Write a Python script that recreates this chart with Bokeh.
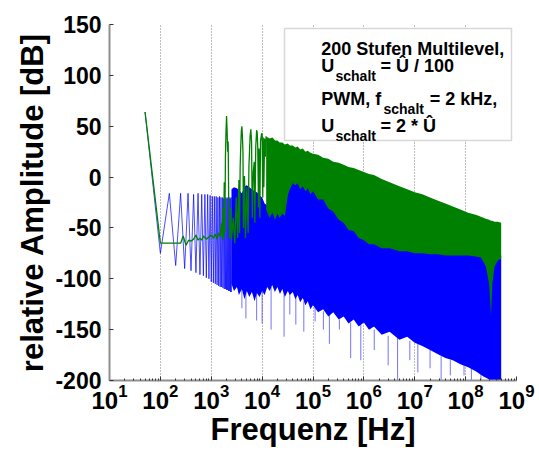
from bokeh.plotting import figure
from bokeh.models import Range1d, Label, BoxAnnotation, FixedTicker
from bokeh.embed import file_html
from bokeh.resources import INLINE

# ---------------- data ----------------
# 200-level multilevel spectrum, low-frequency harmonic lines [Hz], [dB]
blue_line_freq = [50, 100, 150, 200, 250, 300, 350, 400, 450, 500, 550, 600, 650, 700,
                  750, 800, 850, 900, 950, 1000, 1050, 1100, 1150, 1200, 1250, 1300,
                  1350, 1400, 1450, 1500, 1550, 1600, 1650, 1700, 1750, 1800, 1850,
                  1900, 1950, 2000, 2050, 2100, 2150, 2200, 2250, 2300, 2350, 2400,
                  2450, 2500]
blue_line_db = [64, -75, -16, -87, -16, -90, -16, -92, -17, -94, -16, -96, -17, -97,
                -17, -99, -17, -100, -18, -103, -19, -104, -19, -105, -19, -106,
                -20, -107, -19, -108, -20, -108, -20, -109, -21, -110, -20,
                -110, -21, -111, -20, -111, -21, -112, -20, -112, -21, -113,
                -20, -113]

# multilevel spectrum, dense part: upper and lower edge of the filled band
blue_band_freq = [2.5e3, 2.8e3, 3.2e3, 3.5e3, 4.0e3, 4.5e3, 5.0e3, 5.6e3, 6.3e3, 7.1e3,
                  7.9e3, 8.9e3, 1.0e4, 1.12e4, 1.26e4, 1.41e4, 1.58e4, 1.78e4, 2.0e4,
                  2.24e4, 2.5e4, 2.8e4, 3.2e4, 3.5e4, 4.0e4, 4.5e4, 5.0e4, 5.6e4, 6.3e4,
                  7.1e4, 7.9e4, 8.9e4, 1.0e5, 1.26e5, 1.58e5, 2.0e5, 2.5e5, 3.2e5, 4.0e5,
                  5.0e5, 6.3e5, 7.9e5, 1.0e6, 1.26e6, 1.58e6, 2.24e6, 3.2e6, 5.0e6,
                  7.1e6, 1.0e7, 1.41e7, 2.0e7, 2.8e7, 4.0e7, 5.6e7, 7.9e7, 1.12e8,
                  1.58e8, 2.24e8, 3.2e8, 4.0e8, 5.0e8]
blue_band_top = [-12, -10, -11, -13, -16, -9, -8, -10, -12, -14,
                 -15, -18, -20, -26, -28, -34, -32, -34, -32,
                 -34, -32, -30, -14, -8, -2, -2, -2, -6, -5,
                 -8, -7, -11, -10, -17, -18, -26, -30, -38, -41,
                 -48, -49, -56, -58, -62, -62, -66, -66, -69,
                 -69, -71, -71, -72, -72, -73, -73, -73, -73,
                 -74, -74, -75, -76, -77]
blue_band_bottom = [-105, -112, -108, -116, -110, -120, -112, -118, -113, -122,
                    -114, -118, -112, -116, -108, -112, -106, -113, -108,
                    -115, -110, -118, -112, -116, -113, -120, -116, -123, -119,
                    -126, -122, -130, -126, -133, -130, -137, -133, -140, -137,
                    -144, -140, -147, -143, -150, -147, -155, -152, -160,
                    -157, -163, -166, -170, -174, -178, -180, -184, -187,
                    -191, -196, -200, -200, -200]

# single deep lines below the multilevel band
blue_spike_freq = [4.0e3, 4.8e3, 7.8e3, 1.0e4, 1.5e4, 2.7e4, 3.5e4, 4.6e4, 6.6e4, 1.1e5,
                   1.6e5, 2.1e5, 3.3e5, 5.5e5, 8.7e5, 1.6e6, 3.0e6, 4.6e6, 8.0e6,
                   1.15e7, 2.0e7, 3.3e7, 5.0e7, 9.3e7, 1.3e8, 2.0e8, 2.9e8]
blue_spike_from = [-110, -112, -113, -112, -108, -110, -112, -118, -122, -128,
                   -132, -135, -140, -143, -145, -150, -156, -158, -161,
                   -163, -170, -176, -180, -185, -187, -193, -197]
blue_spike_to = [-129, -139, -141, -144, -150, -157, -135, -145, -152, -142,
                 -150, -164, -150, -178, -180, -170, -185, -200, -180,
                 -192, -188, -200, -195, -195, -200, -200, -200]

# PWM spectrum, low-frequency and 2 kHz carrier-harmonic lines
green_line_freq = [50, 100, 150, 200, 250, 280, 320, 360, 400, 450, 500, 550, 600, 650,
                   700, 800, 900, 1000, 1100, 1200, 1300, 1400, 1500, 1600, 1650,
                   1700, 1750, 1800, 1850, 1900, 1950, 2000, 2050, 2100, 2150, 2200,
                   2300, 2400, 2500, 2700, 2900, 3100, 3300, 3500, 3600, 3700, 3800,
                   3900, 4000, 4100, 4200, 4300, 4500, 4700, 5000, 5300, 5500, 5700,
                   5800, 6000, 6200, 6400, 6700, 7000, 7200, 7500, 7700, 7800, 8000,
                   8200, 8500, 8700, 9000, 9300, 9600, 9800, 10000, 10300, 10500,
                   10800, 11200, 11600, 12000]
green_line_db = [64, -65, -65, -65, -65, -58, -67, -62, -63, -61, -57, -62, -60, -62,
                 -58, -61, -59, -57, -60, -56, -61, -55, -58, -45, -60,
                 -30, -62, -5, -55, 20, 45, 60, 45, 25, 35, -20,
                 -60, -30, -62, -40, -65, -20, -60, -3, -55, 10, 30,
                 45, 50, 40, 25, -50, 1, -60, -10, -55, 10, 30,
                 40, 47, 35, -40, 5, 15, -45, 30, 40, 46, 44,
                 30, -30, 28, -40, 35, 40, 43, 42, -20, 39,
                 -10, 38, 20, 40]

# PWM spectrum, dense part: upper edge and floor of the filled band
green_band_freq = [1.2e4, 1.4e4, 1.6e4, 1.8e4, 2.0e4, 2.2e4, 2.5e4, 2.8e4, 3.2e4, 3.5e4,
                   4.0e4, 4.5e4, 5.0e4, 5.6e4, 6.3e4, 7.1e4, 7.9e4, 8.9e4, 1.0e5,
                   1.26e5, 1.58e5, 2.0e5, 2.5e5, 3.2e5, 4.0e5, 5.0e5, 6.3e5, 7.9e5,
                   1.0e6, 1.26e6, 1.58e6, 2.24e6, 3.2e6, 5.0e6, 7.1e6, 1.0e7, 1.41e7,
                   2.0e7, 2.8e7, 4.0e7, 5.6e7, 7.9e7, 1.12e8, 1.58e8, 2.0e8, 2.5e8,
                   2.9e8, 3.15e8, 3.35e8, 3.7e8, 4.3e8, 5.0e8]
green_band_top = [40, 38, 39, 36, 36, 34, 34, 32, 33, 31,
                  31, 29, 30, 27, 28, 25, 26, 24, 23,
                  22, 19, 18, 15, 14, 12, 10, 9, 7,
                  5, 3, 2, -2, -5, -9, -12, -15, -17,
                  -20, -23, -26, -29, -32, -35, -37, -39, -41,
                  -42, -43, -43, -44, -44, -45]
green_band_floor = [-32, -40, -35, -42, -36, -40, -36, -38, -18, -12,
                    -6, -8, -6, -12, -9, -14, -11, -17, -14,
                    -22, -22, -31, -34, -42, -45, -52, -53, -60,
                    -62, -66, -66, -70, -70, -73, -73, -75, -75,
                    -76, -76, -77, -77, -77, -77, -78, -79, -88,
                    -105, -136, -105, -88, -82, -80]

x_ticks = [1e1, 1e2, 1e3, 1e4, 1e5, 1e6, 1e7, 1e8, 1e9]
y_ticks = [-200, -150, -100, -50, 0, 50, 100, 150]
y_tick_labels = ["-200", "-150", "-100", "-50", "0", "50", "100", "150"]

legend_lines = ["200 Stufen Multilevel,", "PWM, f", "= 2 kHz,"]

BLUE = "#0000ff"
GREEN = "#008000"
FONT = "Liberation Sans"

# ---------------- figure ----------------
W, H = 539, 450
FL, FR, FT, FB = 109.0, 516.0, 24.0, 380.0   # frame edges in canvas pixels
p = figure(width=W, height=H, x_axis_type="log",
           x_range=Range1d(1e1, 1e9), y_range=Range1d(-200, 150),
           output_backend="svg", toolbar_location=None,
           min_border_left=int(FL), min_border_right=int(W - FR),
           min_border_top=int(FT), min_border_bottom=int(H - FB))
p.outline_line_color = None
p.background_fill_color = "white"


def fx(px):
    return 10 ** (1 + (px - FL) * 8.0 / (FR - FL))


def fy(py):
    return 150 - (py - FT) * 350.0 / (FB - FT)


# blue: deep single lines, band, low-frequency lines
p.segment(x0=blue_spike_freq, y0=blue_spike_from, x1=blue_spike_freq, y1=blue_spike_to,
          line_color=BLUE, line_alpha=0.55, line_width=1)
p.varea(x=blue_band_freq, y1=blue_band_bottom, y2=blue_band_top, fill_color=BLUE)
p.line(blue_line_freq, blue_line_db, line_color=BLUE, line_width=1, line_alpha=0.7)

# green: band and lines
p.varea(x=green_band_freq, y1=green_band_floor, y2=green_band_top, fill_color=GREEN)
p.line(green_line_freq, green_line_db, line_color=GREEN, line_width=1.3)

# ---------------- axes ----------------
minor = [m * 10 ** e for e in range(1, 9) for m in range(2, 10)]
p.xaxis.ticker = FixedTicker(ticks=x_ticks, minor_ticks=minor)
p.yaxis.ticker = FixedTicker(ticks=y_ticks)
p.yaxis.major_label_overrides = dict(zip(y_ticks, y_tick_labels))

for ax in (p.xaxis[0], p.yaxis[0]):
    ax.axis_line_color = "#8f8f8f"
    ax.axis_line_width = 2
    ax.major_tick_in = 4
    ax.major_tick_out = 0
    ax.major_tick_line_color = "#333333"
    ax.minor_tick_in = 2
    ax.minor_tick_out = 0
    ax.minor_tick_line_color = "#333333"
    ax.major_label_text_font = FONT
    ax.major_label_text_font_style = "bold"
    ax.major_label_text_color = "black"
    ax.axis_label_text_font = FONT
    ax.axis_label_text_font_style = "bold"
    ax.axis_label_text_color = "black"
    ax.axis_label_text_font_size = "31px"

p.yaxis.minor_tick_line_color = None
p.yaxis.major_label_text_font_size = "23px"
p.yaxis.major_label_standoff = 8
p.yaxis.axis_label = "relative Amplitude [dB]"
p.yaxis.axis_label_standoff = 2

p.xaxis.major_label_text_font_size = "24px"
p.xaxis.major_label_standoff = 3
p.xaxis.axis_label = "Frequenz [Hz]"
p.xaxis.axis_label_standoff = 0

p.ygrid.visible = False
p.xgrid.grid_line_color = "#7a7a7a"
p.xgrid.grid_line_dash = "1 2"
p.xgrid.grid_line_width = 1

# ---------------- legend (drawn by hand for the subscripts) ----------------
p.add_layout(BoxAnnotation(left=fx(284), right=fx(511), top=fy(28), bottom=fy(140),
                           fill_color="white", fill_alpha=1.0,
                           line_color="#7f7f7f", line_width=1.5))
p.segment(x0=[fx(289)], y0=[fy(54.5)], x1=[fx(318)], y1=[fy(54.5)],
          line_color=BLUE, line_width=1, line_alpha=0.8)
p.segment(x0=[fx(289)], y0=[fy(109)], x1=[fx(318)], y1=[fy(109)],
          line_color=GREEN, line_width=1.2)


def lab(text, px, py, size):
    p.add_layout(Label(x=fx(px), y=fy(py), text=text, text_font=FONT,
                       text_font_style="bold", text_font_size=size,
                       text_color="black", text_baseline="alphabetic",
                       text_align="left"))


lab(legend_lines[0], 320.7, 48.5, "18px")
lab("U", 320.7, 65, "18px")
lab("schalt", 335, 75, "14px")
lab("= Û / 100", 380, 65, "18px")
lab(legend_lines[1], 320.7, 98.5, "18px")
lab("schalt", 383, 108.5, "14px")
lab(legend_lines[2], 429.3, 98.5, "18px")
lab("U", 320.7, 125, "18px")
lab("schalt", 335, 135, "14px")
lab("= 2 * Û", 380, 125, "18px")

open("out.html", "w").write(file_html(p, INLINE))
